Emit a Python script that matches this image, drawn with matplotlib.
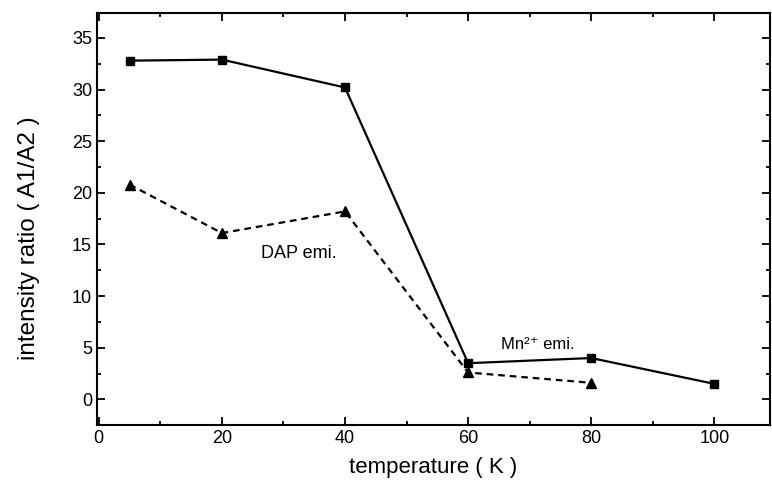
import matplotlib.pyplot as plt
from matplotlib.ticker import MultipleLocator

plt.rcParams['font.family'] = ['Liberation Sans', 'DejaVu Sans']

# Intensity ratio A1/A2 versus temperature
temp_mn = [5, 20, 40, 60, 80, 100]
ratio_mn = [32.8, 32.9, 30.2, 3.5, 4.0, 1.5]

temp_dap = [5, 20, 40, 60, 80]
ratio_dap = [20.8, 16.1, 18.2, 2.6, 1.6]

fig = plt.figure(figsize=(7.72, 4.87), dpi=100)
ax = fig.add_axes([0.1256, 0.127, 0.8714, 0.846])

ax.plot(temp_mn, ratio_mn, '-', color='black', lw=1.6,
        marker='s', ms=6, mfc='black', mec='black')
ax.plot(temp_dap, ratio_dap, '--', color='black', lw=1.6, dashes=(3, 2.2),
        marker='^', ms=7, mfc='black', mec='black')

ax.text(26.4, 13.7, 'DAP emi.', fontsize=13)
ax.text(65.4, 4.9, 'Mn²⁺ emi.', fontsize=12)

ax.set_xlim(-0.3, 109)
ax.set_ylim(-2.5, 37.4)
ax.xaxis.set_major_locator(MultipleLocator(20))
ax.xaxis.set_minor_locator(MultipleLocator(10))
ax.yaxis.set_major_locator(MultipleLocator(5))
ax.yaxis.set_minor_locator(MultipleLocator(2.5))
ax.tick_params(which='both', direction='in', top=True, right=True,
               width=1.3, labelsize=13)
ax.tick_params(which='major', length=6)
ax.tick_params(which='minor', length=3)
for s in ax.spines.values():
    s.set_linewidth(1.5)

ax.set_xlabel('temperature ( K )', fontsize=16, labelpad=7)
ax.set_ylabel('intensity ratio ( A1/A2 )', fontsize=17.5)
ax.yaxis.set_label_coords(-0.085, 0.454)

plt.savefig('out.png', dpi=100)
